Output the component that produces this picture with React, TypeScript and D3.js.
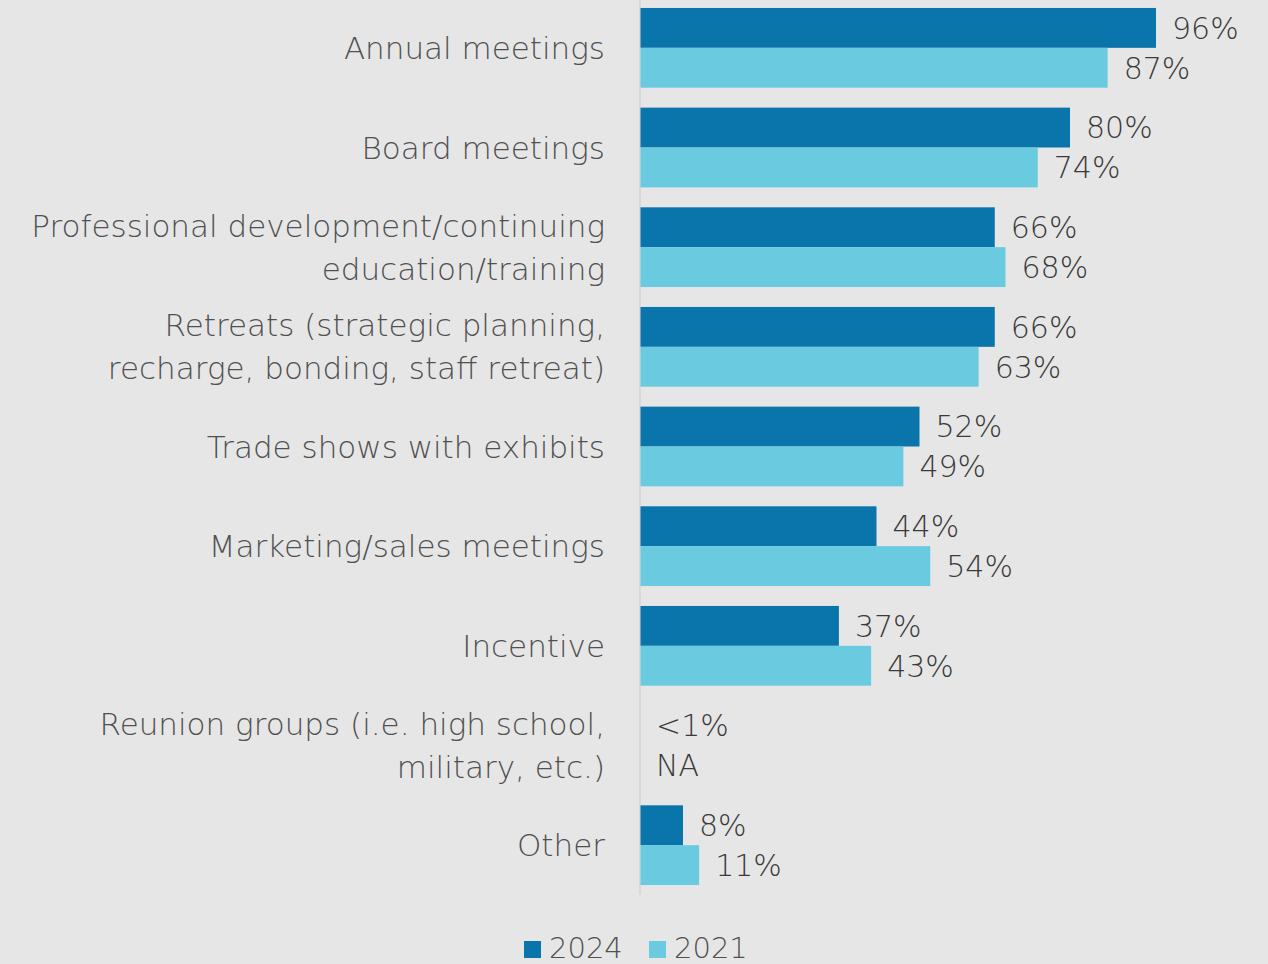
import React, { useEffect, useRef } from "react";
import * as d3 from "d3";

const categories = [
  ["Annual meetings"],
  ["Board meetings"],
  ["Professional development/continuing", "education/training"],
  ["Retreats (strategic planning,", "recharge, bonding, staff retreat)"],
  ["Trade shows with exhibits"],
  ["Marketing/sales meetings"],
  ["Incentive"],
  ["Reunion groups (i.e. high school,", "military, etc.)"],
  ["Other"],
];
const values2024 = [96, 80, 66, 66, 52, 44, 37, 0, 8];
const values2021 = [87, 74, 68, 63, 49, 54, 43, 0, 11];
const labels2024 = ["96%", "80%", "66%", "66%", "52%", "44%", "37%", "<1%", "8%"];
const labels2021 = ["87%", "74%", "68%", "63%", "49%", "54%", "43%", "NA", "11%"];
const seriesNames = ["2024", "2021"];
const colors = ["#0a75ab", "#69cae0"];

const W = 1268;
const H = 964;

const App = () => {
  const ref = useRef<SVGSVGElement>(null);

  useEffect(() => {
    const svg = d3.select(ref.current);
    svg.selectAll("*").remove();
    const font = "'DejaVu Sans', sans-serif";

    svg.append("rect").attr("width", W).attr("height", H).attr("fill", "#e6e6e6");

    const x = d3.scaleLinear().domain([0, 100]).range([640, 1177.5]);
    const y = d3
      .scaleBand()
      .domain(categories.map((d, i) => String(i)))
      .range([-2, 895])
      .paddingInner(0.2)
      .paddingOuter(0.1);
    const sub = d3.scaleBand().domain(seriesNames).range([0, y.bandwidth()]);

    svg
      .append("line")
      .attr("x1", x(0))
      .attr("x2", x(0))
      .attr("y1", 0)
      .attr("y2", 895)
      .attr("stroke", "#d4d4d4")
      .attr("stroke-width", 1.5);

    const rows = svg
      .selectAll("g.row")
      .data(categories)
      .join("g")
      .attr("class", "row")
      .attr("transform", (d, i) => `translate(0,${y(String(i))})`);

    const series = [values2024, values2021];
    const labels = [labels2024, labels2021];

    series.forEach((vals, s) => {
      rows
        .filter((d, i) => vals[i] > 0)
        .append("rect")
        .attr("x", x(0) + 0.5)
        .attr("y", sub(seriesNames[s])!)
        .attr("width", (d) => x(vals[categories.indexOf(d)]) - x(0) - 0.5)
        .attr("height", sub.bandwidth())
        .attr("fill", colors[s]);

      rows
        .append("text")
        .attr("x", (d) => x(vals[categories.indexOf(d)]) + 16)
        .attr("y", sub(seriesNames[s])! + sub.bandwidth() / 2)
        .attr("dy", "0.36em")
        .attr("font-family", font)
        .attr("font-weight", 300)
        .attr("font-size", 30)
        .attr("fill", "#3a3a3a")
        .text((d) => labels[s][categories.indexOf(d)]);
    });

    // category labels
    rows.each(function (d) {
      const g = d3.select(this);
      const lh = 43;
      const n = d.length;
      d.forEach((line, k) => {
        g.append("text")
          .attr("x", 605)
          .attr("y", y.bandwidth() / 2 + (k - (n - 1) / 2) * lh)
          .attr("dy", "0.36em")
          .attr("text-anchor", "end")
          .attr("font-family", font)
          .attr("font-weight", 300)
          .attr("font-size", 31)
          .attr("fill", "#505050")
          .text(line);
      });
    });

    // legend
    const legendX = [524, 649];
    seriesNames.forEach((name, s) => {
      svg
        .append("rect")
        .attr("x", legendX[s])
        .attr("y", 941)
        .attr("width", 17)
        .attr("height", 17)
        .attr("fill", colors[s]);
      svg
        .append("text")
        .attr("x", legendX[s] + 25)
        .attr("y", 948)
        .attr("dy", "0.36em")
        .attr("font-family", font)
        .attr("font-weight", 300)
        .attr("font-size", 29)
        .attr("fill", "#505050")
        .text(name);
    });
  }, []);

  return (
    <svg
      ref={ref}
      width={W}
      height={H}
      style={{ position: "fixed", left: 0, top: 0, display: "block" }}
    ></svg>
  );
};

export default App;
